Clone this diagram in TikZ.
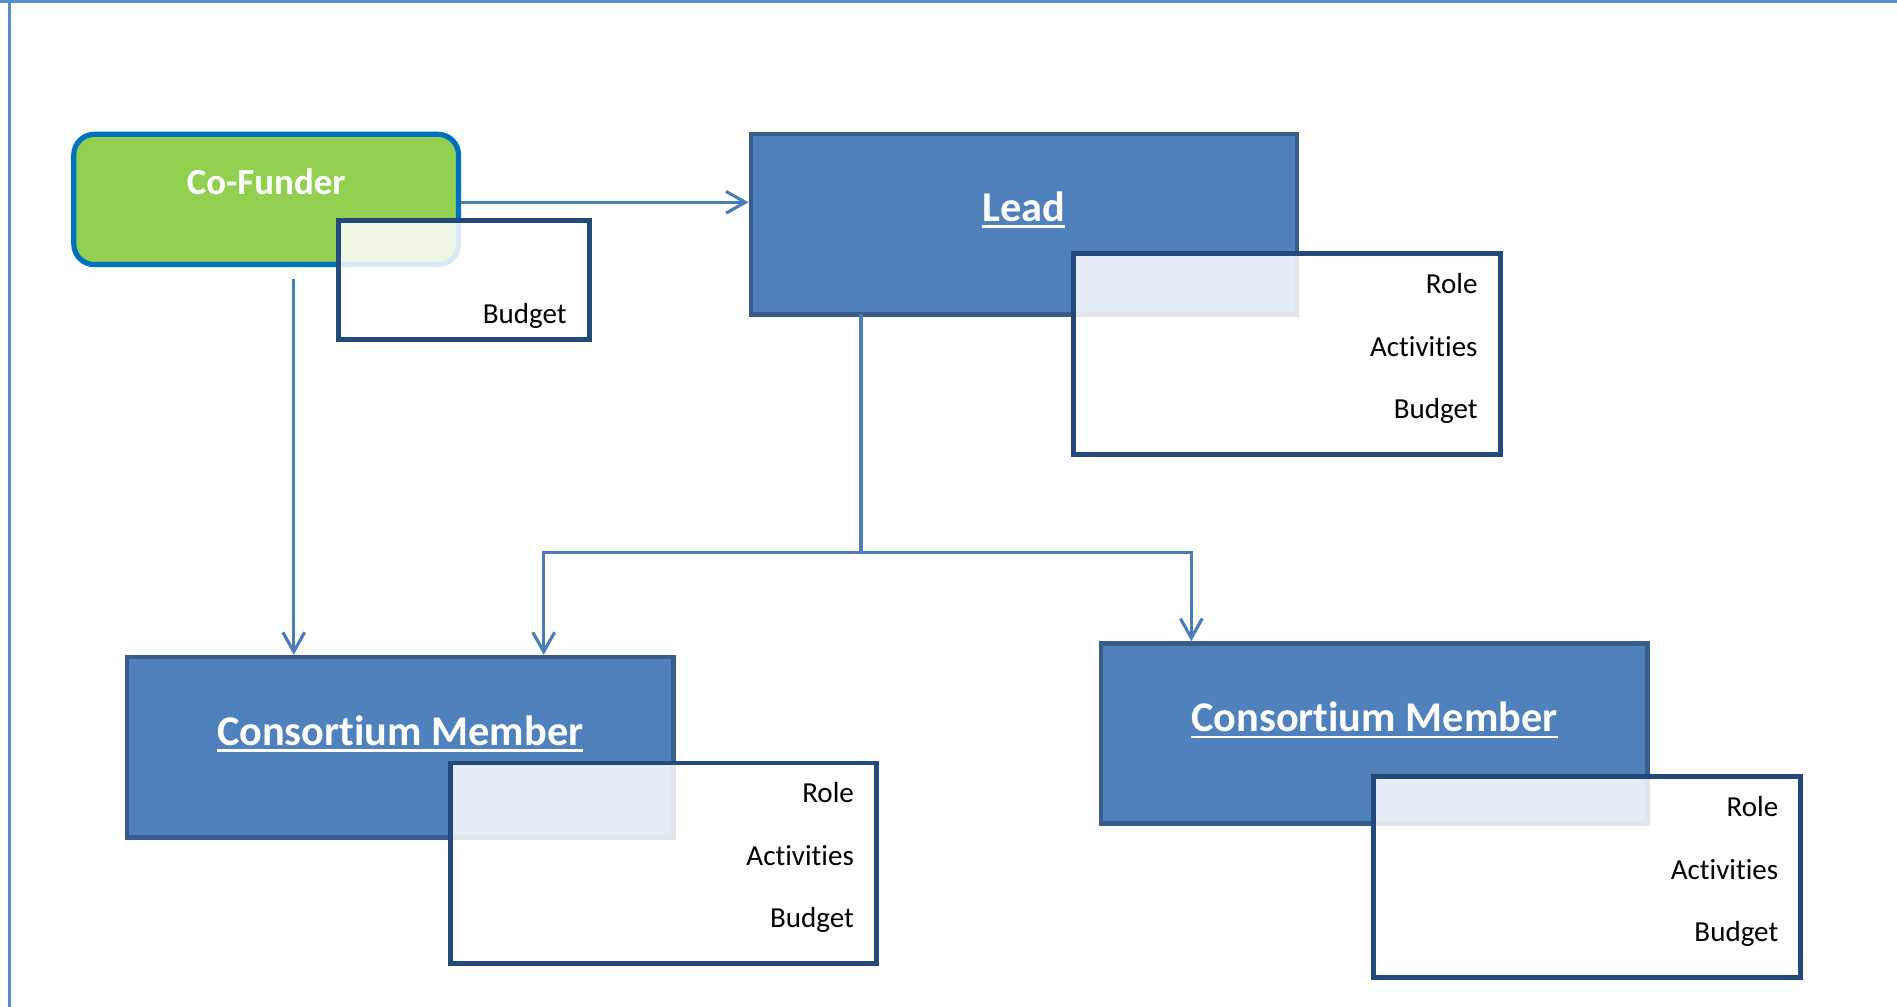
\documentclass[tikz,border=0pt]{standalone}
\usepackage{fontspec}
\setmainfont{Carlito}[Ligatures={NoCommon,NoContextual}, RawFeature={-liga;-clig;-calt}]
\usetikzlibrary{arrows.meta}
\definecolor{cfgreen}{HTML}{92D050}
\definecolor{cfborder}{HTML}{0070C0}
\definecolor{mainfill}{HTML}{4F81BD}
\definecolor{mainborder}{HTML}{385D8A}
\definecolor{subborder}{HTML}{23487C}
\definecolor{connc}{HTML}{4A7EBB}
\definecolor{framec}{HTML}{5B8BC8}
\newcommand\myul[1]{\setbox0\hbox{#1}\rlap{\rule[-5.4pt]{\wd0}{1.9pt}}\box0}
\tikzset{
  cfbox/.style={draw=cfborder, fill=cfgreen, line width=4.3pt, rounded corners=17pt, inner sep=0pt},
  mainbox/.style={draw=mainborder, fill=mainfill, line width=3.6pt, inner sep=0pt, minimum width=451.5pt, minimum height=149pt},
  subbox/.style={draw=subborder, fill=white, fill opacity=0.85, draw opacity=1, line width=3.9pt, inner sep=0pt},
  bigsub/.style={subbox, minimum width=352.5pt, minimum height=166pt},
  title/.style={text=white, font=\fontsize{35}{42}\selectfont\bfseries, anchor=base, inner sep=0pt},
  cftitle/.style={text=white, font=\fontsize{30.5}{36}\selectfont\bfseries, anchor=base, inner sep=0pt},
  item/.style={text=black, font=\fontsize{24}{29}\selectfont, anchor=base east, inner sep=0pt},
  conn/.style={draw=connc, line width=2.6pt},
  arr/.style={conn, -{Straight Barb[length=16pt, width=18pt, line width=2.6pt]}},
}
\begin{document}
\begin{tikzpicture}[x=1pt, y=-1pt]
\useasboundingbox (0,0) rectangle (1568,832);
% frame
\coordinate (ftl) at (7.5,1.4);
\coordinate (ftr) at (1568,1.4);
\coordinate (fbl) at (7.5,832);
\coordinate (ftop) at (0,1.4);
\draw[draw=framec, line width=2.6pt] (ftop) -- (ftr);
\draw[draw=framec, line width=2.6pt] (ftl) -- (fbl);

% main boxes
\node[cfbox, minimum width=318pt, minimum height=107.7pt] (cf) at (220,164.85) {};
\node[mainbox] (lead) at (846.25,185.45) {};
\node[mainbox] (cm1) at (330.85,617.6) {};
\node[mainbox] (cm2) at (1136,606.25) {};

% titles
\node[cftitle] (cft) at (220,161) {Co-Funder};
\node[title] (leadt) at (846.25,182.7) {\myul{Lead}};
\node[title] (cm1t) at (330.8,616) {\myul{Consortium Member}};
\node[title] (cm2t) at (1136,604.7) {\myul{Consortium Member}};

% sub boxes
\node[subbox, minimum width=207pt, minimum height=98.2pt] (cfb) at (383.5,231.6) {};
\node[bigsub] (leadb) at (1063.75,292.5) {};
\node[bigsub] (cm1b) at (548.35,713.6) {};
\node[bigsub] (cm2b) at (1311.75,724.75) {};

% sub texts
\node[item] (cfbud) at (468.6,267) {Budget};
\node[item] (lrole) at (1221.5,242.5) {Role};
\node[item] (lact) at (1221.5,294.5) {Activities};
\node[item] (lbud) at (1221.5,346) {Budget};
\node[item] (c1role) at (706,663.4) {Role};
\node[item] (c1act) at (706,715) {Activities};
\node[item] (c1bud) at (706,766.5) {Budget};
\node[item] (c2role) at (1470,675) {Role};
\node[item] (c2act) at (1470,727) {Activities};
\node[item] (c2bud) at (1470,778.5) {Budget};

% connectors
\draw[arr] (cf.east |- 0,167.2) -- (lead.west |- 0,167.2);
\coordinate (cfout) at (242.8,231);
\draw[arr] (cfout) -- (cfout |- cm1.north);
\coordinate (ls) at (711.7,259.6);
\coordinate (jn) at (711.7,456.5);
\coordinate (jl) at (449.4,456.5);
\coordinate (jr) at (984.7,456.5);
\draw[conn] (ls) -- (jn);
\draw[arr] (jn) -- (jl) -- (jl |- cm1.north);
\draw[arr] (jn) -- (jr) -- (jr |- cm2.north);
\end{tikzpicture}
\end{document}
